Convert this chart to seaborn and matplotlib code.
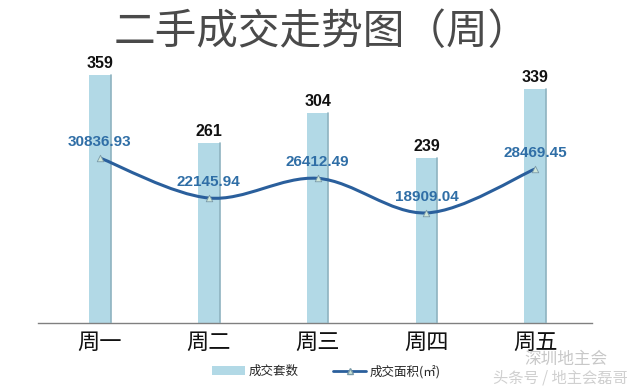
import numpy as np
import pandas as pd
import matplotlib
matplotlib.use("Agg")
import matplotlib.pyplot as plt
import seaborn as sns
from matplotlib.path import Path
from matplotlib.patches import PathPatch, Patch
from matplotlib.lines import Line2D

days = ["周一", "周二", "周三", "周四", "周五"]
units = [359, 261, 304, 239, 339]
area = [30836.93, 22145.94, 26412.49, 18909.04, 28469.45]
title = "二手成交走势图（周）"
legend_labels = ["成交套数", "成交面积(㎡)"]

sns.set_theme(style="white")
plt.rcParams['font.family'] = ['Noto Sans CJK SC', 'DejaVu Sans']

df = pd.DataFrame({"day": days, "units": units, "area": area})

fig = plt.figure(figsize=(6.4, 3.89), dpi=100)
ax = fig.add_axes([0.059, 0.170, 0.866, 0.709])
bar_color = "#b2d9e6"
line_color = "#2a5f9c"
num_font = ["Liberation Sans", "DejaVu Sans"]

sns.barplot(data=df, x="day", y="units", order=days, color=bar_color,
            width=0.2, saturation=1, ax=ax, edgecolor="none")
ax.set_ylim(0, 400)
ax.set_xlim(-0.57, 4.52)
for i, v in enumerate(units):
    ax.annotate(str(v), (i, v), xytext=(0, 3), textcoords="offset points",
                ha="center", va="bottom", fontsize=11.5, fontweight="bold",
                color="#111111", family=num_font)
    ax.plot([i + 0.1, i + 0.1], [0, v], color="#8fb3c0", lw=1.2, zorder=3)

ax2 = ax.twinx()
ax2.set_ylim(-4950, 54900)
xs = np.arange(len(days))
verts = [(xs[0], area[0])]
codes = [Path.MOVETO]
pts = list(zip(xs, area))
for k in range(len(pts) - 1):
    p0 = pts[k - 1] if k > 0 else pts[k]
    p1 = pts[k]
    p2 = pts[k + 1]
    p3 = pts[k + 2] if k + 2 < len(pts) else pts[k + 1]
    t = 1 / 6
    c1 = (p1[0] + (p2[0] - p0[0]) * t, p1[1] + (p2[1] - p0[1]) * t)
    c2 = (p2[0] - (p3[0] - p1[0]) * t, p2[1] - (p3[1] - p1[1]) * t)
    verts += [c1, c2, p2]
    codes += [Path.CURVE4] * 3
ax2.add_patch(PathPatch(Path(verts, codes), facecolor="none",
                        edgecolor=line_color, lw=2.2, zorder=4))
sns.scatterplot(data=df, x=np.arange(len(days)), y="area", ax=ax2, marker="^",
                s=22, color="#cfe6d8", edgecolor="#7a9aa8", linewidth=0.6,
                zorder=5, legend=False)
for i, v in enumerate(area):
    ax2.annotate(f"{v:.2f}", (i, v), xytext=(0, 6.5), textcoords="offset points",
                 ha="center", va="bottom", fontsize=11, fontweight="bold",
                 color="#2f6ea6", family=num_font)
ax2.set_ylabel("")
ax2.set_yticks([])
ax2.set_xlim(-0.57, 4.52)

for a in (ax, ax2):
    for s in ["top", "right", "left", "bottom"]:
        a.spines[s].set_visible(False)
ax.spines["bottom"].set_visible(True)
ax.spines["bottom"].set_color("#808080")
ax.spines["bottom"].set_linewidth(1.0)
ax.set_yticks([])
ax.set_xlabel("")
ax.set_ylabel("")
ax.tick_params(axis="x", length=0, labelsize=16, colors="#111111", pad=6)

fig.text(0.503, 0.917, title, ha="center", va="center", fontsize=30, color="#4a4a4a")

handles = [Patch(facecolor=bar_color, edgecolor="none"),
           Line2D([0], [0], color=line_color, lw=2, marker="^", markersize=5,
                  markerfacecolor="#cfe6d8", markeredgecolor="#7a9aa8")]
fig.legend(handles, legend_labels, loc="center", bbox_to_anchor=(0.51, 0.045),
           ncol=2, frameon=False, fontsize=9, handlelength=2.6, columnspacing=2.8,
           handletextpad=0.3)

fig.text(0.885, 0.075, "深圳地主会", ha="center", va="center", fontsize=12,
         color="#c8c8c8")
fig.text(0.875, 0.028, "头条号 / 地主会磊哥", ha="center", va="center", fontsize=11,
         color="#d0d0d0")

fig.savefig("out.png", dpi=100)
